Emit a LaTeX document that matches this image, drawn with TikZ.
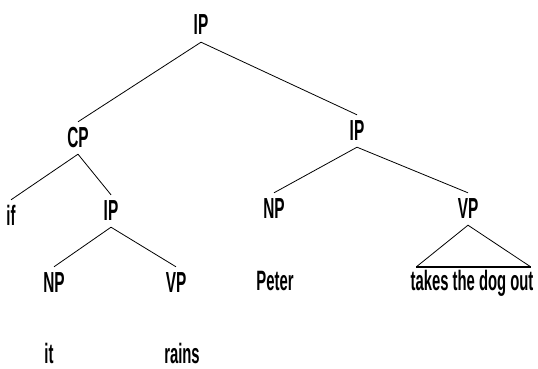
\documentclass[tikz,border=0pt]{standalone}
\usepackage{fontspec}
\setmainfont{Liberation Sans}[FakeStretch=0.53]
\begin{document}
\begin{tikzpicture}[x=1pt,y=-1pt,
  lab/.style={anchor=base, font=\fontsize{29}{29}\selectfont\bfseries, text height=18pt, text depth=0pt, inner xsep=0pt, inner ysep=7pt},
  word/.style={anchor=base, font=\fontsize{28}{28}\selectfont\bfseries, text height=20pt, text depth=0pt, inner xsep=0pt, inner ysep=0pt},
  edge/.style={line width=0.8pt}]
\useasboundingbox (0,0) rectangle (538,369);
\node[lab] (IP0) at (201,35) {IP};
\node[lab] (CP) at (78,147) {CP};
\node[lab] (IP1) at (357,140) {IP};
\node[word,inner ysep=5pt] (if) at (11,225) {if};
\node[lab] (IP2) at (111,220) {IP};
\node[lab] (NP1) at (274,218) {NP};
\node[lab] (VP1) at (468,218) {VP};
\node[lab] (NP2) at (54,292) {NP};
\node[lab] (VP2) at (176,292) {VP};
\node[word] (peter) at (275,290) {Peter};
\node[word] (takes) at (472,290) {takes the dog out};
\node[word] (it) at (49,363) {it};
\node[word] (rains) at (182,363) {rains};
\draw[edge] (IP0.south) -- (CP.north);
\draw[edge] (IP0.south) -- (IP1.north);
\draw[edge] (CP.south) -- (if.north);
\draw[edge] (CP.south) -- (IP2.north);
\draw[edge] (IP1.south) -- (NP1.north);
\draw[edge] (IP1.south) -- (VP1.north);
\draw[edge] (IP2.south) -- (NP2.north);
\draw[edge] (IP2.south) -- (VP2.north);
\coordinate (tl) at ([xshift=6pt,yshift=3pt]takes.north west);
\coordinate (tr) at ([xshift=-3pt,yshift=3pt]takes.north east);
\draw[edge] (tl) -- (VP1.south) -- (tr);
\draw[line width=1.8pt] (tl) -- (tr);
\end{tikzpicture}
\end{document}
